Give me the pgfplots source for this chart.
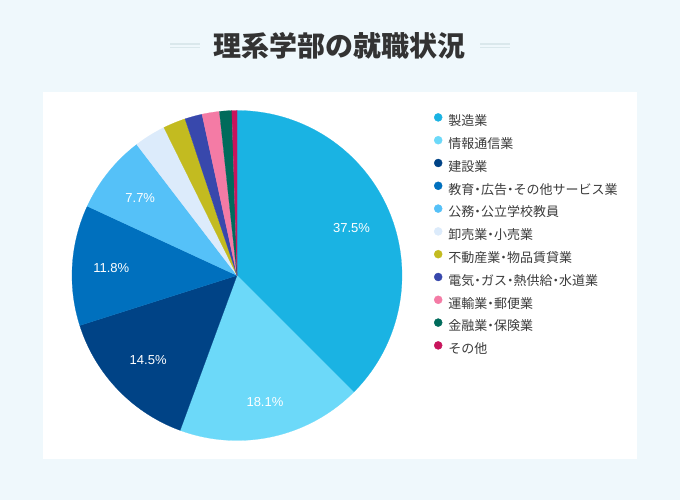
\documentclass[border=0pt]{standalone}
\usepackage{pgfplots}
\pgfplotsset{compat=1.18}
\usepackage{fontspec}
\setmainfont{Liberation Sans}
\newfontfamily\cjk{Noto Sans CJK JP}
\definecolor{bg}{HTML}{EFF8FC}
\definecolor{deco}{HTML}{DAE8EC}
\definecolor{tt}{HTML}{333333}
\definecolor{lt}{HTML}{3C3C3C}
\definecolor{c1}{HTML}{1AB3E3}
\definecolor{c2}{HTML}{6CD9F9}
\definecolor{c3}{HTML}{004386}
\definecolor{c4}{HTML}{0070BE}
\definecolor{c5}{HTML}{55C1F8}
\definecolor{c6}{HTML}{DCEBFB}
\definecolor{c7}{HTML}{C3BB20}
\definecolor{c8}{HTML}{3848AC}
\definecolor{c9}{HTML}{F47BA5}
\definecolor{c10}{HTML}{006B5B}
\definecolor{c11}{HTML}{C8145C}
\tikzset{pct/.style={font=\fontsize{13}{15}\selectfont, text=white, inner sep=0pt}}
\newcommand\md{\kern-3.2pt・\kern-3.2pt}
\def\cum{0}
\newcommand\slice[4]{%
  \pgfmathsetmacro\sa{\cum*3.6}%
  \pgfmathsetmacro\cumnew{\cum+#1}%
  \pgfmathsetmacro\sb{\cumnew*3.6}%
  \pgfmathsetmacro\sm{(\sa+\sb)/2}%
  \xdef\cum{\cumnew}%
  \edef\temp{%
    \noexpand\addplot[fill=#2, draw=#2, line width=0.2pt, domain=\sa:\sb, samples=90, variable=\noexpand\t, forget plot]
      ({165*sin(\noexpand\t)},{165*cos(\noexpand\t)}) -- (axis cs:0,0) -- cycle;
    \noexpand\node[pct] at (axis cs:{#4*sin(\sm)},{#4*cos(\sm)}) {#3};
  }\temp}
\begin{document}
\begin{tikzpicture}[x=1pt,y=1pt]
\fill[bg] (0,0) rectangle (680,500);
\fill[white] (43,41) rectangle (637,408);
\draw[deco, line width=1.2pt] (170,456)--(200,456) (170,452.5)--(200,452.5);
\draw[deco, line width=1.2pt] (480,456)--(510,456) (480,452.5)--(510,452.5);
\node[font=\cjk\bfseries\fontsize{28}{32}\selectfont, text=tt, inner sep=0pt] at (339.5,454) {理系学部の就職状況};
\begin{axis}[at={(237,224.5)}, anchor=center, x=1pt, y=1pt,
  xmin=-170, xmax=170, ymin=-170, ymax=170, hide axis, clip=false,
  legend cell align=left,
  legend image code/.code={\fill[#1] (0pt,4.9pt) circle (4pt);},
  legend style={draw=none, fill=none, at={(axis cs:197,162.3)}, anchor=north west,
    inner sep=0pt, outer sep=0pt, row sep=7.2pt,
    font=\cjk\fontsize{13}{13}\selectfont, text=lt,
    nodes={inner sep=0pt, text height=10pt, text depth=3pt},
    /tikz/every odd column/.append style={column sep=6pt}},
]
\slice{37.5}{c1}{37.5\%}{124}
\slice{18.1}{c2}{18.1\%}{130}
\slice{14.5}{c3}{14.5\%}{123}
\slice{11.8}{c4}{11.8\%}{126}
\slice{7.7}{c5}{7.7\%}{124}
\slice{3.1}{c6}{}{0}
\slice{2.2}{c7}{}{0}
\slice{1.7}{c8}{}{0}
\slice{1.7}{c9}{}{0}
\slice{1.2}{c10}{}{0}
\slice{0.5}{c11}{}{0}
\addlegendimage{c1}\addlegendentry{製造業}
\addlegendimage{c2}\addlegendentry{情報通信業}
\addlegendimage{c3}\addlegendentry{建設業}
\addlegendimage{c4}\addlegendentry{教育\md 広告\md その他サービス業}
\addlegendimage{c5}\addlegendentry{公務\md 公立学校教員}
\addlegendimage{c6}\addlegendentry{卸売業\md 小売業}
\addlegendimage{c7}\addlegendentry{不動産業\md 物品賃貸業}
\addlegendimage{c8}\addlegendentry{電気\md ガス\md 熱供給\md 水道業}
\addlegendimage{c9}\addlegendentry{運輸業\md 郵便業}
\addlegendimage{c10}\addlegendentry{金融業\md 保険業}
\addlegendimage{c11}\addlegendentry{その他}
\end{axis}
\end{tikzpicture}
\end{document}
